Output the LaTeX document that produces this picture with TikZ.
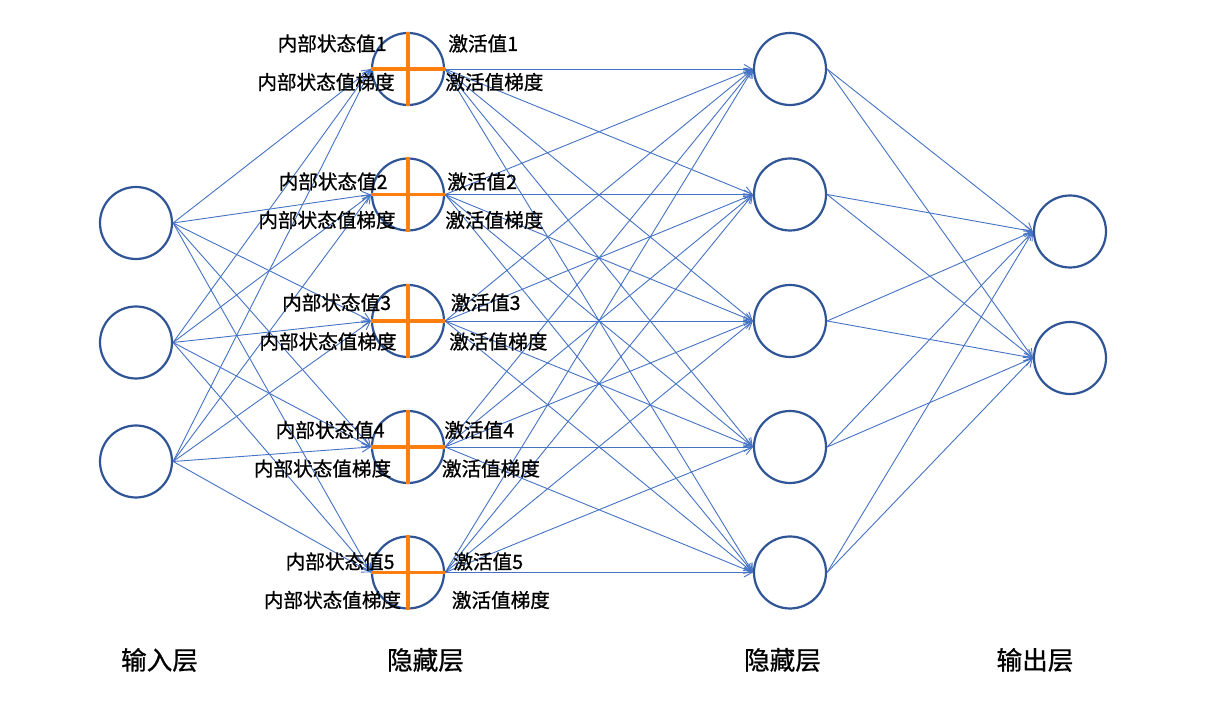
\documentclass[tikz,border=0pt]{standalone}
\usepackage{fontspec}
\setmainfont{Noto Sans CJK SC}[BoldFont=Noto Sans CJK SC,BoldFeatures={FakeBold=0.8}]
\usetikzlibrary{arrows.meta}
\definecolor{ringblue}{HTML}{2F5597}
\definecolor{linkblue}{HTML}{4472C4}
\definecolor{crossorange}{HTML}{FF7F0E}

\begin{document}
\begin{tikzpicture}[x=0.5pt,y=-0.5pt,
		neuron/.style={circle,draw=ringblue,line width=1.1pt,fill=white,minimum size=36pt,inner sep=0pt},
		link/.style={draw=linkblue,line width=0.45pt,-{Straight Barb[length=4pt,width=4.5pt]}},
		cross/.style={draw=crossorange,line width=1.8pt},
		lbl/.style={inner sep=0pt,font=\fontsize{9.8}{11}\selectfont\bfseries},
		layer/.style={inner sep=0pt,font=\fontsize{12.8}{15}\selectfont\bfseries}]
		\useasboundingbox (0,0) rectangle (1207,704);
		% neurons of the four layers
		\foreach \i/\y in {1/223,2/342.5,3/461.5}
			\node[neuron] (in\i) at (136,\y) {};
		\foreach \j/\y in {1/69,2/194.5,3/321,4/447,5/572.5} {
			\node[neuron] (ha\j) at (408,\y) {};
			\node[neuron] (hb\j) at (790,\y) {};
		}
		\foreach \k/\y in {1/231.5,2/358}
			\node[neuron] (out\k) at (1070,\y) {};
		% connections
		\foreach \i in {1,2,3}
			\foreach \j in {1,...,5}
				\draw[link] (in\i.east) -- (ha\j.west);
		\foreach \j in {1,...,5}
			\foreach \m in {1,...,5}
				\draw[link] (ha\j.east) -- (hb\m.west);
		\foreach \m in {1,...,5}
			\foreach \k in {1,2}
				\draw[link] (hb\m.east) -- (out\k.west);
		% crosses and labels of the first hidden layer
		\foreach \j/\yt/\yb/\xtl/\xbl/\xtr/\xbr in {1/43.5/82/387/395/448/445,
				2/181.5/220/388/396/447/445, 3/302.5/341.5/391.5/397/450.5/449,
				4/430/468.5/385/391.5/444/441.5, 5/561.5/600/395/401.5/453/451.5} {
			\draw[cross] (ha\j.north) -- (ha\j.south);
			\draw[cross] (ha\j.west) -- (ha\j.east);
			\node[lbl,anchor=east] (st\j) at (\xtl,\yt) {内部状态值\j};
			\node[lbl,anchor=east] (sg\j) at (\xbl,\yb) {内部状态值梯度};
			\node[lbl,anchor=west] (ac\j) at (\xtr,\yt) {激活值\j};
			\node[lbl,anchor=west] (ag\j) at (\xbr,\yb) {激活值梯度};
		}
		% layer names
		\node[layer] (lin) at (159.5,660) {输入层};
		\node[layer] (lha) at (425.5,660) {隐藏层};
		\node[layer] (lhb) at (782.5,660) {隐藏层};
		\node[layer] (lout) at (1035,660) {输出层};
	\end{tikzpicture}
\end{document}
